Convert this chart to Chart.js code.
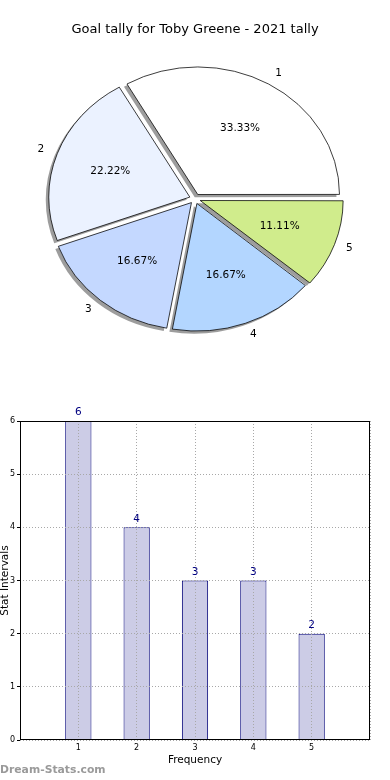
<!DOCTYPE html>
<html>
<head>
<meta charset="utf-8">
<script src="https://cdn.jsdelivr.net/npm/chart.js@4.4.0/dist/chart.umd.min.js"></script>
<style>
  body { margin: 0; background: #fff; width: 390px; height: 780px; position: relative; overflow: hidden; }
  #pieWrap { position: absolute; left: 0; top: 0; width: 390px; height: 350px; }
  #barWrap { position: absolute; left: 0; top: 400px; width: 390px; height: 380px; }
  #mark { position: absolute; left: 0; top: 763px; font: bold 10.8px "DejaVu Sans", sans-serif; color: #9a9a9a; }
</style>
</head>
<body>
<div id="pieWrap"><canvas id="pie"></canvas></div>
<div id="barWrap"><canvas id="bars"></canvas></div>
<div id="mark">Dream-Stats.com</div>
<script>
// goal tally per category
var categories = ['1', '2', '3', '4', '5'];
var goals = [6, 4, 3, 3, 2];
var yTicks = [0, 1, 2, 3, 4, 5, 6];
var sliceColors = ['#ffffff', '#ebf2ff', '#c4d8ff', '#b3d6ff', '#d0ec8c'];

var FONT = '"DejaVu Sans", sans-serif';
var YSCALE = 0.9; // matplotlib pie is stretched sideways (axes not equal)

window.onload = () => {
    // chart.js draws clockwise, matplotlib went counter-clockwise -> reverse
    var pieLabels = categories.slice().reverse();
    var pieData = goals.slice().reverse();
    var pieColors = sliceColors.slice().reverse();
    var total = goals.reduce((a, b) => a + b, 0);

    var squash = function (cy, y) {
        return cy + (y - cy) * YSCALE;
    };

    var ellipsePlugin = {
        id: 'ellipse',
        beforeDatasetsDraw(chart) {
            var meta = chart.getDatasetMeta(0);
            var ctx = chart.ctx;
            ctx.save();
            ctx.translate(0, meta.data[0].y);
            ctx.scale(1, YSCALE);
            ctx.translate(0, -meta.data[0].y);
            // shadows first, under every wedge
            meta.data.forEach(function (arc) {
                var orig = arc.options;
                arc.options = Object.assign({}, orig, { backgroundColor: 'rgba(60,60,60,0.5)', borderWidth: 0 });
                ctx.save();
                ctx.translate(-3, 3);
                arc.draw(ctx);
                ctx.restore();
                arc.options = orig;
            });
        },
        afterDatasetsDraw(chart) {
            var ctx = chart.ctx;
            ctx.restore();
            var meta = chart.getDatasetMeta(0);
            ctx.save();
            ctx.fillStyle = '#000';
            ctx.font = '10.5px ' + FONT;
            ctx.textBaseline = 'middle';
            meta.data.forEach(function (arc, i) {
                var p = arc.getProps(['x', 'y', 'startAngle', 'endAngle', 'outerRadius']);
                var a = (p.startAngle + p.endAngle) / 2;
                var off = (arc.options.offset || 0) / 4;
                var cx = p.x + Math.cos(a) * off;
                var cy = p.y + Math.sin(a) * off;
                var r = p.outerRadius;
                // category label
                ctx.textAlign = Math.cos(a) >= 0 ? 'left' : 'right';
                ctx.fillText(pieLabels[i], cx + Math.cos(a) * r * 1.1, squash(p.y, cy + Math.sin(a) * r * 1.1));
                // percentage
                ctx.textAlign = 'center';
                var pct = (pieData[i] / total * 100).toFixed(2) + '%';
                ctx.fillText(pct, cx + Math.cos(a) * r * 0.6, squash(p.y, cy + Math.sin(a) * r * 0.6));
            });
            ctx.restore();
        }
    };

    new Chart(document.getElementById('pie').getContext('2d'), {
        type: 'pie',
        data: {
            labels: pieLabels,
            datasets: [{
                data: pieData,
                backgroundColor: pieColors,
                borderColor: '#000',
                borderWidth: 0.8,
                offset: 22,
                hoverOffset: 22
            }]
        },
        options: {
            responsive: true,
            maintainAspectRatio: false,
            animation: false,
            rotation: 90,
            radius: 141,
            layout: { padding: { bottom: 2 } },
            events: [],
            plugins: {
                legend: { display: false },
                tooltip: { enabled: false },
                title: {
                    display: true,
                    text: 'Goal tally for Toby Greene - 2021 tally',
                    color: '#000',
                    font: { family: FONT, size: 13, weight: 'normal' },
                    padding: { top: 22, bottom: 12 }
                }
            }
        },
        plugins: [ellipsePlugin]
    });

    var frameAndValues = {
        id: 'frameAndValues',
        afterDraw(chart) {
            var ctx = chart.ctx;
            var a = chart.chartArea;
            ctx.save();
            ctx.strokeStyle = '#000';
            ctx.lineWidth = 1;
            ctx.strokeRect(Math.round(a.left) + 0.5, Math.round(a.top) + 0.5, Math.round(a.right - a.left) - 1, Math.round(a.bottom - a.top) - 1);
            ctx.fillStyle = '#000080';
            ctx.font = '10.5px ' + FONT;
            ctx.textAlign = 'center';
            ctx.textBaseline = 'bottom';
            chart.getDatasetMeta(0).data.forEach(function (bar, i) {
                ctx.fillText(String(goals[i]), bar.x, bar.y - 3);
            });
            ctx.restore();
        }
    };

    new Chart(document.getElementById('bars').getContext('2d'), {
        type: 'bar',
        data: {
            datasets: [{
                data: categories.map((c, i) => ({ x: Number(c), y: goals[i] })),
                backgroundColor: '#cccce6',
                borderColor: '#00007a',
                borderWidth: 1,
                barPercentage: 0.45,
                categoryPercentage: 1
            }]
        },
        options: {
            responsive: true,
            maintainAspectRatio: false,
            animation: false,
            events: [],
            layout: { padding: { top: 21, right: 20, left: 0, bottom: 0 } },
            plugins: {
                legend: { display: false },
                tooltip: { enabled: false }
            },
            scales: {
                x: {
                    type: 'linear',
                    min: 0,
                    max: 6,
                    offset: false,
                    afterFit(scale) { scale.height = 40; },
                    ticks: {
                        stepSize: 1,
                        padding: 3,
                        color: '#000',
                        font: { family: FONT, size: 8 },
                        maxRotation: 0,
                        callback: v => (categories.indexOf(String(v)) >= 0 ? String(v) : '')
                    },
                    grid: {
                        offset: false,
                        z: 1,
                        color: '#a8a8a8',
                        lineWidth: 1,
                        drawTicks: false
                    },
                    border: { display: false, dash: [1, 2] },
                    title: {
                        display: true,
                        text: 'Frequency',
                        color: '#000',
                        font: { family: FONT, size: 10.5 },
                        padding: { top: 0, bottom: 13 }
                    }
                },
                y: {
                    min: yTicks[0],
                    max: yTicks[yTicks.length - 1],
                    afterFit(scale) { scale.width = 20; },
                    afterBuildTicks(scale) { scale.ticks = yTicks.map(v => ({ value: v })); },
                    ticks: {
                        padding: 2,
                        color: '#000',
                        font: { family: FONT, size: 8 }
                    },
                    grid: {
                        z: 1,
                        color: '#a8a8a8',
                        lineWidth: 1,
                        tickLength: 3,
                        tickColor: '#000',
                        tickBorderDash: []
                    },
                    border: { display: false, dash: [1, 2] },
                    title: {
                        display: true,
                        text: 'Stat Intervals',
                        color: '#000',
                        font: { family: FONT, size: 10.5 },
                        padding: { top: -1, bottom: 0 }
                    }
                }
            }
        },
        plugins: [frameAndValues]
    });
};
</script>
</body>
</html>
